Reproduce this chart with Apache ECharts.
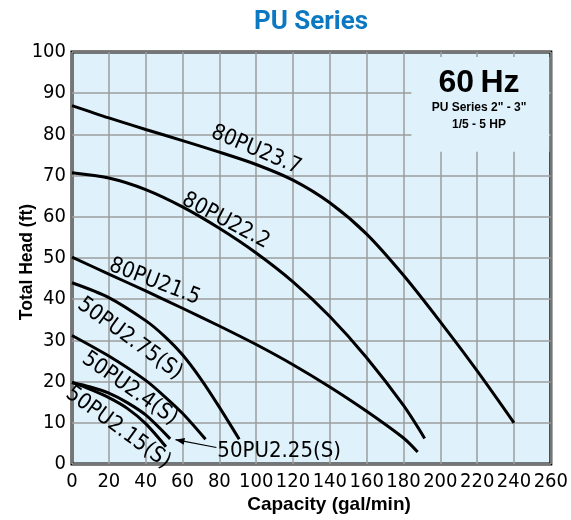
<!DOCTYPE html>
<html>
<head>
<meta charset="utf-8">
<script src="https://cdn.jsdelivr.net/npm/echarts@6/dist/echarts.min.js"></script>
<style>
html,body{margin:0;padding:0;background:#fff;}
#chart{width:571px;height:520px;}
</style>
</head>
<body>
<div id="chart"></div>
<script>
// ---- data ----
const xTicks = [0,20,40,60,80,100,120,140,160,180,200,220,240,260];
const yTicks = [0,10,20,30,40,50,60,70,80,90,100];

const pu237X = [0,20,40,60,80,100,120,140,160,180,200,220,240];
const pu237Y = [87,84,81.2,78.5,75.7,72.7,68.9,63.4,55.8,45.8,34.5,22.6,10];

const pu222X = [0,20,40,60,80,100,120,140,160,180,191.5];
const pu222Y = [70.7,69.4,66.6,62.4,57.2,51.2,44.2,35.8,25.8,14.2,6.2];

const pu215X = [0,20,40,60,80,100,120,140,160,180,187.7];
const pu215Y = [50.2,46.1,42,37.8,33.5,29,24.1,18.7,12.8,6.3,2.9];

const pu275X = [0,20,40,50,60,70,80,90.8];
const pu275Y = [44,40.4,34.8,31.1,26.5,20.6,13.8,6];

const pu24X = [0,20,40,50,60,72.5];
const pu24Y = [31.2,26.2,20.3,16.5,12.3,6];

const pu225X = [0,10,20,30,40,53.3];
const pu225Y = [19.8,18.7,17.2,14.9,11.9,6.1];

const pu2215X = [0,10,20,30,40,51];
const pu2215Y = [19.8,18.1,16.1,13.5,9.8,4.2];

const seriesNames = ['80PU23.7','80PU22.2','80PU21.5','50PU2.75(S)','50PU2.4(S)','50PU2.25(S)','50PU2.15(S)'];

// label anchors in data coordinates, with angle
const curveLabels = [
  {text:'80PU23.7', x:100, y:76.2, rot:23},
  {text:'80PU22.2', x:83.5, y:59.0, rot:28},
  {text:'80PU21.5', x:44.9, y:44.2, rot:21},
  {text:'50PU2.75(S)', x:31.4, y:30.4, rot:36},
  {text:'50PU2.4(S)', x:31.4, y:18.3, rot:35},
  {text:'50PU2.15(S)', x:25, y:8.8, rot:36}
];

const pairs = (xs, ys) => xs.map((x,i)=>[x, ys[i]]);
const allSeries = [
  pairs(pu237X,pu237Y), pairs(pu222X,pu222Y), pairs(pu215X,pu215Y),
  pairs(pu275X,pu275Y), pairs(pu24X,pu24Y), pairs(pu225X,pu225Y), pairs(pu2215X,pu2215Y)
];

const NARROW = "'Liberation Sans Narrow','DejaVu Sans Condensed','Arial Narrow',sans-serif";
const chart = echarts.init(document.getElementById('chart'), null, {renderer:'canvas'});

chart.setOption({
  animation:false,
  backgroundColor:'#ffffff',
  grid:{left:72, right:18, top:52, bottom:56, show:true, backgroundColor:'#dff1fb', borderColor:'#000', borderWidth:3},
  xAxis:{type:'value', min:0, max:260, interval:20,
    axisLine:{show:false}, axisTick:{show:false},
    axisLabel:{color:'#000', fontSize:20, fontFamily:NARROW, margin:8},
    splitLine:{show:true, lineStyle:{color:'#9c9c9c', width:1.5}}},
  yAxis:{type:'value', min:0, max:100, interval:10,
    axisLine:{show:false}, axisTick:{show:false},
    axisLabel:{color:'#000', fontSize:20, fontFamily:NARROW, margin:6},
    splitLine:{show:true, lineStyle:{color:'#9c9c9c', width:1.5}}},
  series: allSeries.map((d,i)=>({
    name:seriesNames[i], type:'line', data:d, showSymbol:false, symbol:'none',
    smooth:0.3, z:5,
    lineStyle:{color:'#000', width:3, cap:'butt'}
  }))
});

function px(x,y){ return chart.convertToPixel({gridIndex:0}, [x,y]); }

const g = [];
// 60 Hz box
const b1 = px(184.3, 98.8), b2 = px(260, 75.8);
g.push({type:'rect', z:2, shape:{x:b1[0], y:b1[1], width:b2[0]-b1[0]-1.5, height:b2[1]-b1[1]}, style:{fill:'#dff1fb'}});
const t1 = px(221, 92.5), t2 = px(221, 86.4), t3 = px(221, 82.3);
g.push({type:'text', z:10, x:t1[0], y:t1[1], style:{text:'60\u2009Hz', font:"bold 32px 'Liberation Sans',Arial,sans-serif", fill:'#000', align:'center', verticalAlign:'middle'}});
g.push({type:'text', z:10, x:t2[0], y:t2[1], style:{text:'PU Series 2" - 3"', font:"bold 12px 'Liberation Sans',Arial,sans-serif", fill:'#000', align:'center', verticalAlign:'middle'}});
g.push({type:'text', z:10, x:t3[0], y:t3[1], style:{text:'1/5 - 5 HP', font:"bold 12px 'Liberation Sans',Arial,sans-serif", fill:'#000', align:'center', verticalAlign:'middle'}});

// curve labels
curveLabels.forEach(l=>{
  const p = px(l.x,l.y);
  g.push({type:'text', z:10, x:p[0], y:p[1], rotation:-l.rot*Math.PI/180,
    style:{text:l.text, font:"22px "+NARROW, fill:'#000', align:'center', verticalAlign:'middle'}});
});

// 50PU2.25(S) callout with arrow
const tp = px(78.9, 3.0);
g.push({type:'text', z:10, x:tp[0], y:tp[1], style:{text:'50PU2.25(S)', font:"22px "+NARROW, fill:'#000', align:'left', verticalAlign:'middle'}});
const a0 = px(78.4, 4.0), a1 = px(56.2, 5.9);
g.push({type:'line', z:10, shape:{x1:a0[0], y1:a0[1], x2:a1[0], y2:a1[1]}, style:{stroke:'#000', lineWidth:1.2}});
(function(){
  const dx = a1[0]-a0[0], dy = a1[1]-a0[1], L = Math.hypot(dx,dy), ux = dx/L, uy = dy/L;
  const len = 9, w = 3.5;
  const bx = a1[0]-ux*len, by = a1[1]-uy*len;
  g.push({type:'polygon', z:10, shape:{points:[[a1[0],a1[1]],[bx-uy*w, by+ux*w],[bx+uy*w, by-ux*w]]}, style:{fill:'#000'}});
})();

// titles
g.push({type:'text', z:10, x:311, y:22, style:{text:'PU Series', font:"bold 26px 'Roboto','Liberation Sans',Arial,sans-serif", fill:'#0b78c1', align:'center', verticalAlign:'middle'}});
g.push({type:'text', z:10, x:329, y:505, style:{text:'Capacity (gal/min)', font:"bold 19px 'Liberation Sans',Arial,sans-serif", fill:'#000', align:'center', verticalAlign:'middle'}});
g.push({type:'text', z:10, x:27, y:262, rotation:Math.PI/2, style:{text:'Total Head (ft)', font:"bold 17.5px 'Liberation Sans',Arial,sans-serif", fill:'#000', align:'center', verticalAlign:'middle'}});

chart.setOption({graphic:g});
</script>
</body>
</html>
